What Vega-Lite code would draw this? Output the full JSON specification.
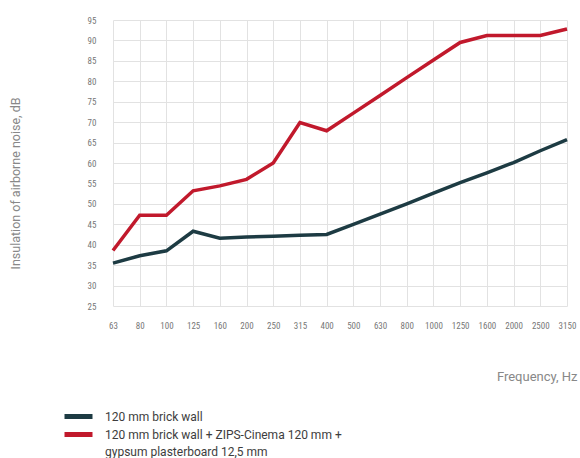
{
  "$schema": "https://vega.github.io/schema/vega-lite/v6.json",
  "width": 454,
  "height": 286,
  "autosize": "none",
  "padding": {"left": 113, "top": 20, "right": 13, "bottom": 152},
  "background": "white",
  "config": {
    "font": "Roboto Condensed, DejaVu Sans Condensed, Liberation Sans Narrow, Roboto, sans-serif",
    "view": {"stroke": null},
    "axis": {"gridColor": "#e2e2e2", "gridWidth": 1}
  },
  "data": {
    "values": [
      {"freq": "63", "series": "120 mm brick wall", "value": 35.5},
      {"freq": "80", "series": "120 mm brick wall", "value": 37.3},
      {"freq": "100", "series": "120 mm brick wall", "value": 38.5},
      {"freq": "125", "series": "120 mm brick wall", "value": 43.3},
      {"freq": "160", "series": "120 mm brick wall", "value": 41.6},
      {"freq": "200", "series": "120 mm brick wall", "value": 41.9},
      {"freq": "250", "series": "120 mm brick wall", "value": 42.1},
      {"freq": "315", "series": "120 mm brick wall", "value": 42.3},
      {"freq": "400", "series": "120 mm brick wall", "value": 42.5},
      {"freq": "500", "series": "120 mm brick wall", "value": 45},
      {"freq": "630", "series": "120 mm brick wall", "value": 47.5},
      {"freq": "800", "series": "120 mm brick wall", "value": 50},
      {"freq": "1000", "series": "120 mm brick wall", "value": 52.6},
      {"freq": "1250", "series": "120 mm brick wall", "value": 55.2},
      {"freq": "1600", "series": "120 mm brick wall", "value": 57.6},
      {"freq": "2000", "series": "120 mm brick wall", "value": 60.1},
      {"freq": "2500", "series": "120 mm brick wall", "value": 63},
      {"freq": "3150", "series": "120 mm brick wall", "value": 65.7},
      {"freq": "63", "series": "120 mm brick wall + ZIPS-Cinema 120 mm + gypsum plasterboard 12,5 mm", "value": 38.6},
      {"freq": "80", "series": "120 mm brick wall + ZIPS-Cinema 120 mm + gypsum plasterboard 12,5 mm", "value": 47.2},
      {"freq": "100", "series": "120 mm brick wall + ZIPS-Cinema 120 mm + gypsum plasterboard 12,5 mm", "value": 47.2},
      {"freq": "125", "series": "120 mm brick wall + ZIPS-Cinema 120 mm + gypsum plasterboard 12,5 mm", "value": 53.2},
      {"freq": "160", "series": "120 mm brick wall + ZIPS-Cinema 120 mm + gypsum plasterboard 12,5 mm", "value": 54.4},
      {"freq": "200", "series": "120 mm brick wall + ZIPS-Cinema 120 mm + gypsum plasterboard 12,5 mm", "value": 56},
      {"freq": "250", "series": "120 mm brick wall + ZIPS-Cinema 120 mm + gypsum plasterboard 12,5 mm", "value": 60},
      {"freq": "315", "series": "120 mm brick wall + ZIPS-Cinema 120 mm + gypsum plasterboard 12,5 mm", "value": 69.9},
      {"freq": "400", "series": "120 mm brick wall + ZIPS-Cinema 120 mm + gypsum plasterboard 12,5 mm", "value": 67.9},
      {"freq": "500", "series": "120 mm brick wall + ZIPS-Cinema 120 mm + gypsum plasterboard 12,5 mm", "value": 72.2},
      {"freq": "630", "series": "120 mm brick wall + ZIPS-Cinema 120 mm + gypsum plasterboard 12,5 mm", "value": 76.5},
      {"freq": "800", "series": "120 mm brick wall + ZIPS-Cinema 120 mm + gypsum plasterboard 12,5 mm", "value": 80.9},
      {"freq": "1000", "series": "120 mm brick wall + ZIPS-Cinema 120 mm + gypsum plasterboard 12,5 mm", "value": 85.2},
      {"freq": "1250", "series": "120 mm brick wall + ZIPS-Cinema 120 mm + gypsum plasterboard 12,5 mm", "value": 89.5},
      {"freq": "1600", "series": "120 mm brick wall + ZIPS-Cinema 120 mm + gypsum plasterboard 12,5 mm", "value": 91.2},
      {"freq": "2000", "series": "120 mm brick wall + ZIPS-Cinema 120 mm + gypsum plasterboard 12,5 mm", "value": 91.2},
      {"freq": "2500", "series": "120 mm brick wall + ZIPS-Cinema 120 mm + gypsum plasterboard 12,5 mm", "value": 91.2},
      {"freq": "3150", "series": "120 mm brick wall + ZIPS-Cinema 120 mm + gypsum plasterboard 12,5 mm", "value": 92.8}
    ]
  },
  "mark": {"type": "line", "strokeWidth": 3.5},
  "encoding": {
    "x": {
      "field": "freq",
      "type": "ordinal",
      "sort": null,
      "scale": {"type": "point", "padding": 0},
      "axis": {
        "title": "Frequency, Hz",
        "labelAngle": 0,
        "grid": true,
        "ticks": false,
        "domain": false,
        "labelPadding": 15,
        "labelFontSize": 9,
        "labelColor": "#777777",
        "titleX": 464,
        "titleY": 70,
        "titleAlign": "right",
        "titleBaseline": "middle",
        "titleFont": "Roboto, sans-serif",
        "titleFontSize": 13,
        "titleFontWeight": "normal",
        "titleColor": "#888888"
      }
    },
    "y": {
      "field": "value",
      "type": "quantitative",
      "scale": {"domain": [25, 95], "nice": false, "zero": false},
      "axis": {
        "values": [25, 30, 35, 40, 45, 50, 55, 60, 65, 70, 75, 80, 85, 90, 95],
        "grid": true,
        "ticks": false,
        "domain": false,
        "labelPadding": 17,
        "labelFontSize": 9,
        "labelColor": "#777777",
        "title": "Insulation of airborne noise, dB",
        "titleX": -98,
        "titleY": 163,
        "titleAngle": -90,
        "titleAlign": "center",
        "titleBaseline": "middle",
        "titleFont": "Roboto, sans-serif",
        "titleFontSize": 12.5,
        "titleFontWeight": "normal",
        "titleColor": "#888888"
      }
    },
    "color": {
      "field": "series",
      "type": "nominal",
      "scale": {
        "domain": ["120 mm brick wall", "120 mm brick wall + ZIPS-Cinema 120 mm + gypsum plasterboard 12,5 mm"],
        "range": ["#1d3b43", "#c1192c"]
      },
      "legend": {
        "title": null,
        "orient": "none",
        "legendX": -42,
        "legendY": 389,
        "direction": "vertical",
        "symbolType": "M-2.8,0H2.8",
        "symbolSize": 100,
        "symbolStrokeWidth": 5,
        "labelFont": "Roboto, sans-serif",
        "labelFontSize": 12,
        "labelColor": "#3d3d3d",
        "labelOffset": 19,
        "labelLimit": 0,
        "rowPadding": -8,
        "labelExpr": "datum.label == '120 mm brick wall' ? datum.label : ['120 mm brick wall + ZIPS-Cinema 120 mm +', 'gypsum plasterboard 12,5 mm']",
        "encode": {"labels": {"update": {"lineHeight": {"value": 17}}}}
      }
    }
  }
}
